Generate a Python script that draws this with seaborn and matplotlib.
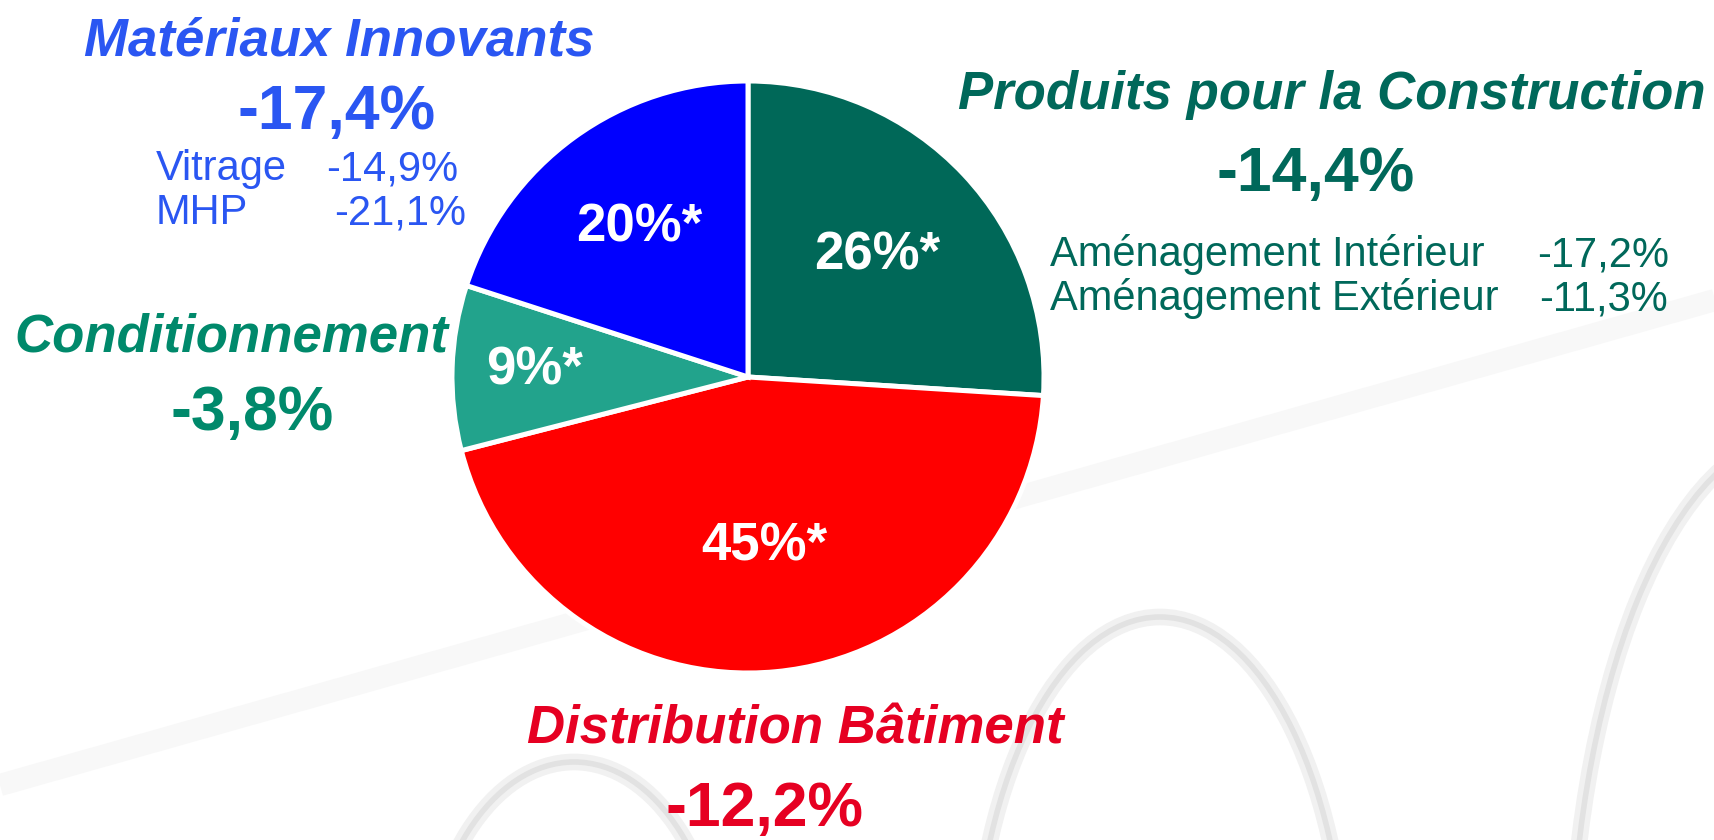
import matplotlib
matplotlib.use("Agg")
import matplotlib.pyplot as plt
import numpy as np
import seaborn as sns
from matplotlib.patches import Arc

W, H = 1715, 840

segments = ["Produits pour la Construction", "Distribution Bâtiment",
            "Conditionnement", "Matériaux Innovants"]
shares = [26, 45, 9, 20]
changes = ["-14,4%", "-12,2%", "-3,8%", "-17,4%"]
slice_colors = ["#006858", "#ff0000", "#22a38c", "#0000ff"]
text_colors = ["#00685a", "#e60022", "#00896b", "#2a56f2"]

pc_items = ["Aménagement Intérieur", "Aménagement Extérieur"]
pc_values = ["-17,2%", "-11,3%"]
mi_items = ["Vitrage", "MHP"]
mi_values = ["-14,9%", "-21,1%"]

sns.set_style("white")
plt.rcParams["font.family"] = ["Liberation Sans", "DejaVu Sans"]

fig = plt.figure(figsize=(W / 100, H / 100), dpi=100)
ax = fig.add_axes([0, 0, 1, 1])


def Y(y):
    return H - y


# faint decorative background (arches and a diagonal band)
ax.plot([0, 1715], [Y(785), Y(300)], color="#f8f8f8", lw=16, zorder=0,
        solid_capstyle="butt")
for cx, cy, w, h in [(1160, 1000, 374, 766), (1800, 1000, 460, 1130),
                     (574, 1000, 300, 476)]:
    ax.add_patch(Arc((cx, Y(cy)), w, h, theta1=0, theta2=180,
                     color="#f1f1f1", lw=12, zorder=0))
    ax.add_patch(Arc((cx, Y(cy)), w, h, theta1=0, theta2=180,
                     color="#e2e2e2", lw=4, zorder=0))

center = (748, Y(377))
radius = 296
wedges, _ = ax.pie(shares, colors=slice_colors, startangle=90, counterclock=False,
                   center=center, radius=radius,
                   wedgeprops={"edgecolor": "white", "linewidth": 3.6})

# percentage labels inside the slices
label_dist = [0.60, 0.575, 0.72, 0.625]
for wedge, share, d in zip(wedges, shares, label_dist):
    ang = np.deg2rad((wedge.theta1 + wedge.theta2) / 2)
    ax.text(center[0] + d * radius * np.cos(ang), center[1] + d * radius * np.sin(ang),
            f"{share}%*", color="white", fontsize=38, fontweight="bold",
            ha="center", va="center")

title_kw = dict(fontsize=38, fontweight="bold", style="italic", ha="center", va="baseline")
pct_kw = dict(fontsize=45, fontweight="bold", ha="center", va="baseline")
sub_kw = dict(fontsize=30, ha="left", va="baseline")

# Produits pour la Construction
ax.text(1332, Y(109), segments[0], color=text_colors[0], **title_kw)
ax.text(1316, Y(191), changes[0], color=text_colors[0], **pct_kw)
for i, (item, val) in enumerate(zip(pc_items, pc_values)):
    ax.text(1050, Y(266 + 44 * i), item, color=text_colors[0], **sub_kw)
    ax.text(1537 + 2 * i, Y(266 + 44 * i), val, color=text_colors[0], **sub_kw)

# Distribution Bâtiment
ax.text(795, Y(744), segments[1], color=text_colors[1], **title_kw)
ax.text(765, Y(826), changes[1], color=text_colors[1], **pct_kw)

# Conditionnement
ax.text(231, Y(352), segments[2], color=text_colors[2], **title_kw)
ax.text(252, Y(430), changes[2], color=text_colors[2], **pct_kw)

# Matériaux Innovants
ax.text(339, Y(55), segments[3], color=text_colors[3], **title_kw)
ax.text(337, Y(129), changes[3], color=text_colors[3], **pct_kw)
for i, (item, val) in enumerate(zip(mi_items, mi_values)):
    ax.text(156, Y(180 + 44 * i), item, color=text_colors[3], **sub_kw)
    ax.text(326 + 8 * i, Y(180 + 44 * i), val, color=text_colors[3], **sub_kw)

ax.set_xlim(0, W)
ax.set_ylim(0, H)
ax.axis("off")

fig.savefig("out.png", dpi=100, facecolor="white")
plt.close(fig)
